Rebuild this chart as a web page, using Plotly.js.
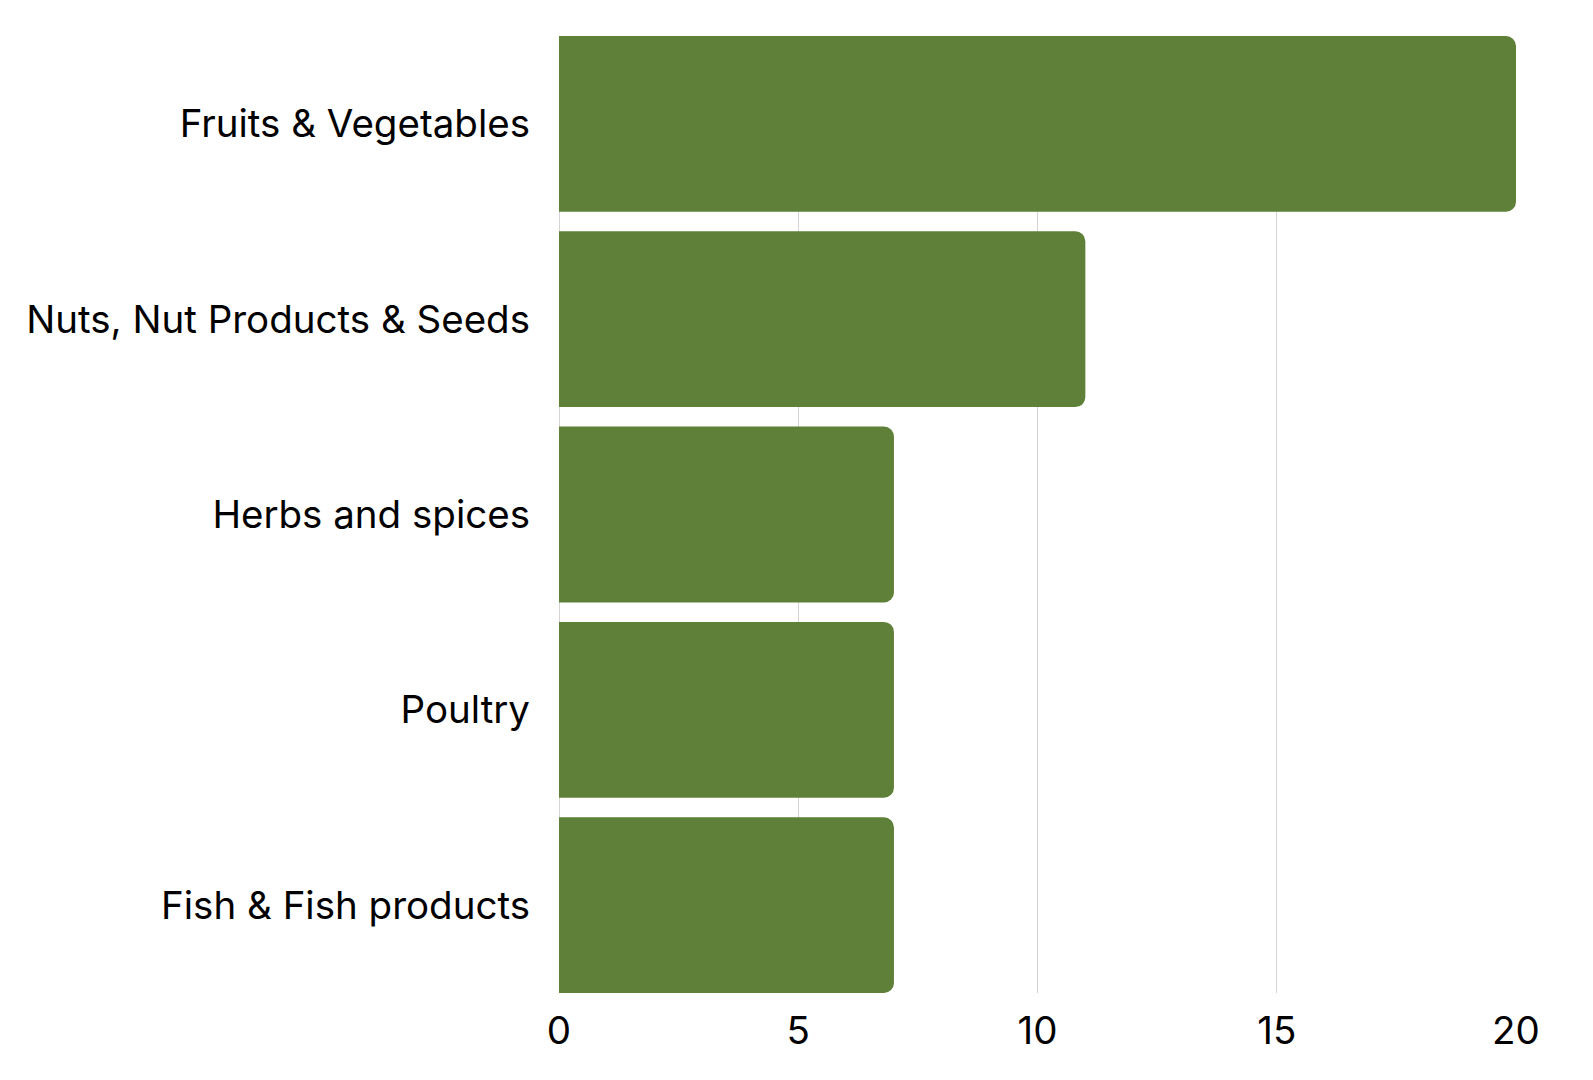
<!DOCTYPE html>
<html>
<head>
<meta charset="utf-8">
<script src="https://cdn.plot.ly/plotly-3.0.1.min.js"></script>
<style>
  html, body { margin: 0; padding: 0; background: #fff; }
  #chart { width: 1593px; height: 1080px; }
</style>
</head>
<body>
<div id="chart"></div>
<script>
var categories = [
  'Fruits & Vegetables',
  'Nuts, Nut Products & Seeds',
  'Herbs and spices',
  'Poultry',
  'Fish & Fish products'
];
var counts = [20, 11, 7, 7, 7];
var tickValues = [0, 5, 10, 15, 20];

var barTrace = {
  type: 'bar',
  orientation: 'h',
  x: counts,
  y: categories,
  marker: { color: '#5e8038' },
  hoverinfo: 'x+y'
};

// bars fill the plot from top to bottom, no half-gap at the ends
var gap = 0.1;
var half = (1 - gap) / 2;

var layout = {
  width: 1593,
  height: 1080,
  margin: { l: 559, r: 77, t: 36, b: 87, pad: 0 },
  paper_bgcolor: '#ffffff',
  plot_bgcolor: '#ffffff',
  font: { family: 'Inter, sans-serif', size: 38.5, color: '#000000' },
  bargap: gap,
  barcornerradius: 10,
  showlegend: false,
  xaxis: {
    range: [0, 20],
    tickvals: tickValues,
    showgrid: true,
    gridcolor: '#d4d4d4',
    gridwidth: 1,
    zeroline: true,
    zerolinecolor: '#d4d4d4',
    zerolinewidth: 1,
    showline: false,
    ticks: '',
    ticklabelstandoff: 11,
    tickfont: { family: 'Inter, sans-serif', size: 38.5, color: '#000' }
  },
  yaxis: {
    range: [categories.length - 1 + half, -half],
    autorange: false,
    showgrid: false,
    showline: false,
    ticks: '',
    ticklabelstandoff: 28,
    tickfont: { family: 'Inter, sans-serif', size: 38.5, color: '#000' }
  }
};

Plotly.newPlot('chart', [barTrace], layout, { displayModeBar: false, staticPlot: true });
</script>
</body>
</html>
